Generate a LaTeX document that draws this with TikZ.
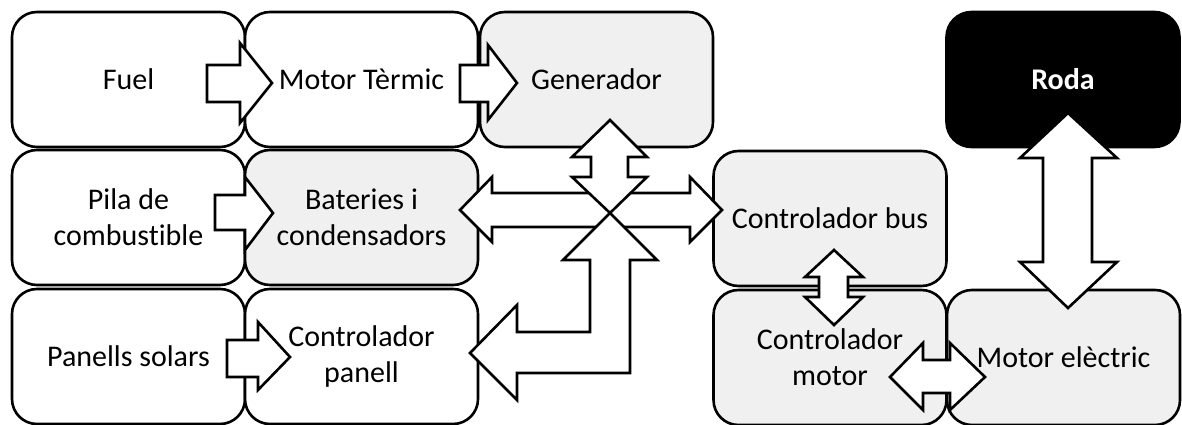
\documentclass[tikz,border=0pt]{standalone}
\usepackage{fontspec}
\setmainfont{Carlito}[Ligatures=NoCommon]
\usepackage{tikz}
\usetikzlibrary{positioning}

\definecolor{boxgray}{RGB}{240,240,240}

\tikzset{
  block/.style={draw, line width=2.6pt, rounded corners=25pt, fill=white,
    minimum width=233pt, minimum height=135pt, inner sep=0pt, align=center,
    font=\fontsize{30}{36}\selectfont},
  grayblock/.style={block, fill=boxgray},
  darkblock/.style={block, fill=black, text=white, font=\fontsize{30}{36}\selectfont\bfseries},
  blockarrow/.style={draw, line width=2.6pt, fill=white, line join=miter}
}

\begin{document}
\begin{tikzpicture}[x=1pt, y=-1pt]
   \useasboundingbox (0,0) rectangle (1182,425);

   % first column
   \node[block] (fuel) at (128.5,79.5) {Fuel};
   \node[block] (pila) at (128.5,217.5) {Pila de\\combust\kern0pt ible};
   \node[block] (panells) at (128.5,356.5) {Panells solars};

   % second column
   \node[block] (termic) at (361.5,79.5) {Motor Tèrmic};
   \node[grayblock] (bateries) at (361.5,217.5) {Bateries i\\condensadors};
   \node[block] (ctrlpanell) at (361.5,356.5) {Controlador\\panell};

   \node[grayblock] (generador) at (596.5,79.5) {Generador};

   % right part
   \node[grayblock] (ctrlbus) at (830,218.5) {Controlador bus};
   \node[grayblock] (ctrlmotor) at (830,357.5) {Controlador\\motor};
   \node[grayblock] (motorel) at (1063.5,357.5) {Motor elèctric};
   \node[darkblock] (roda) at (1063,79.5) {Roda};

   % single block arrows
   \draw[blockarrow] (207,65) -- (240,65) -- (240,43) -- (272,83) -- (240,123) -- (240,102) -- (207,102) -- cycle;
   \draw[blockarrow] (460,65) -- (488,65) -- (488,45) -- (517,83) -- (488,120) -- (488,102) -- (460,102) -- cycle;
   \draw[blockarrow] (215,195) -- (245,195) -- (245,177) -- (273,213) -- (245,250) -- (245,230) -- (215,230) -- cycle;
   \draw[blockarrow] (227,340) -- (258,340) -- (258,322) -- (290,357) -- (258,390) -- (258,377) -- (227,377) -- cycle;

   % bateries <-> controlador bus
   \draw[blockarrow] (460,210) -- (492,177) -- (492,193) -- (690,193) -- (690,177) -- (722,210)
     -- (690,242) -- (690,227) -- (492,227) -- (492,242) -- cycle;
   % generador <-> bus
   \draw[blockarrow] (610,120) -- (647,157) -- (628,157) -- (628,177) -- (647,177) -- (610,213)
     -- (572,177) -- (591,177) -- (591,157) -- (572,157) -- cycle;
   % controlador panell <-> bus
   \draw[blockarrow] (610,213) -- (657,260) -- (630,260) -- (630,373) -- (517,373) -- (517,400)
     -- (470,353) -- (517,305) -- (517,332) -- (590,332) -- (590,260) -- (563,260) -- cycle;

   % controlador bus <-> controlador motor
   \draw[blockarrow] (834,250) -- (863,277) -- (848,277) -- (848,297) -- (863,297) -- (834,325)
     -- (805,297) -- (819,297) -- (819,277) -- (805,277) -- cycle;
   % controlador motor <-> motor electric
   \draw[blockarrow] (890,377) -- (923,343) -- (923,360) -- (950,360) -- (950,343) -- (985,377)
     -- (950,410) -- (950,393) -- (923,393) -- (923,410) -- cycle;
   % roda <-> motor electric
   \draw[blockarrow] (1068,113) -- (1117,158) -- (1092,158) -- (1092,262) -- (1117,262) -- (1068,308)
     -- (1020,262) -- (1043,262) -- (1043,158) -- (1020,158) -- cycle;
\end{tikzpicture}
\end{document}
